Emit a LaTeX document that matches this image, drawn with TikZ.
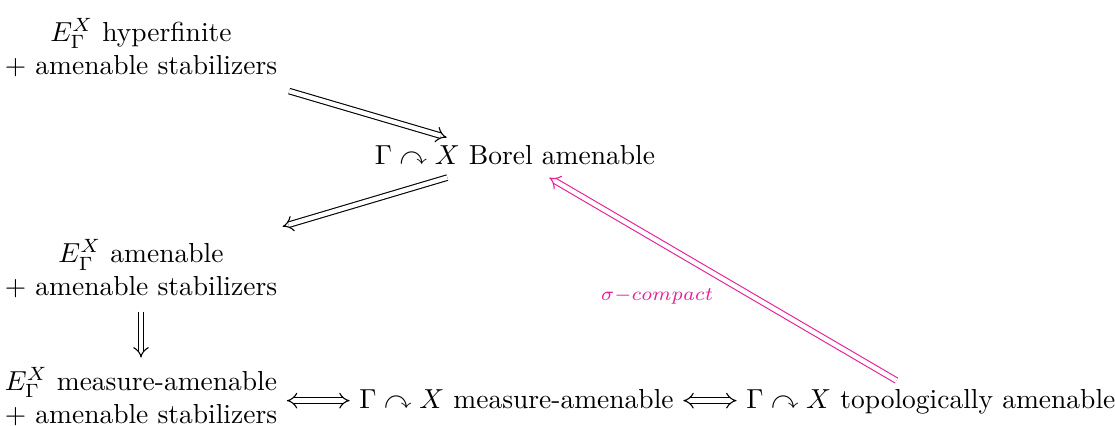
\documentclass[tikz,border=0pt]{standalone}
\usepackage{amsmath,amssymb}
\usepackage{xcolor}
\usepackage{tikz}
\usetikzlibrary{arrows.meta, positioning}
\definecolor{compactpink}{RGB}{232,30,150}

\begin{document}
\begin{tikzpicture}[
    node distance=0.8cm,
    claim/.style={align=center},
    oneline/.style={text height=1.5ex, text depth=0.25ex},
    implies/.style={double, double distance=1.6pt, -{Implies}},
    iff/.style={double, double distance=1.6pt, {Implies}-{Implies}}
]
\useasboundingbox (0,0) rectangle (14.25,-5.444);
\node[claim] (hyper) at (1.802,-0.607) {$E_\Gamma^X$ hyperfinite\\$+$ amenable stabilizers};
\node[claim, below=1.83cm of hyper] (amen) {$E_\Gamma^X$ amenable\\$+$ amenable stabilizers};
\node[claim, below=0.64cm of amen] (meas) {$E_\Gamma^X$ measure-amenable\\$+$ amenable stabilizers};
\node[oneline] (borel) at (6.581,-2.013) {$\Gamma \curvearrowright X$ Borel amenable};
\node[oneline] (mmid) at (6.601,-5.120) {$\Gamma \curvearrowright X$ measure-amenable};
\node[oneline, right=0.68cm of mmid] (topo) {$\Gamma \curvearrowright X$ topologically amenable};

\draw[implies, shorten <=6pt] (hyper) -- (borel);
\draw[implies, shorten >=4pt] (borel) -- (amen);
\draw[implies, shorten <=1.5pt] (amen) -- (meas);
\draw[iff] (meas.east |- mmid) -- (mmid);
\draw[iff] (mmid) -- (topo);
\draw[implies, compactpink] (topo) -- node[midway, below left]{$\scriptstyle\sigma-compact$} (borel);
\end{tikzpicture}
\end{document}
